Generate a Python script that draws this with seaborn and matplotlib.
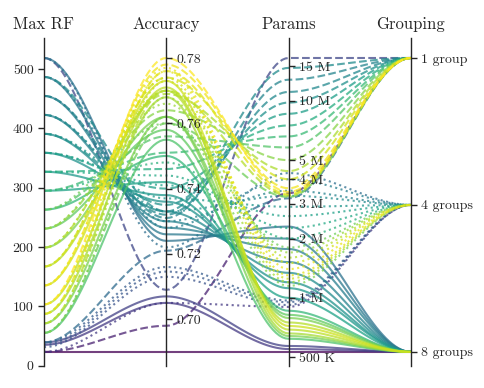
import numpy as np
import pandas as pd
import matplotlib
matplotlib.use("Agg")
import matplotlib.pyplot as plt
import matplotlib.transforms as mtransforms
from matplotlib.ticker import FixedLocator, FixedFormatter, NullLocator
import seaborn as sns

sns.set_style("ticks")
plt.rcParams["font.family"] = ["cmr10", "DejaVu Serif"]
plt.rcParams["mathtext.fontset"] = "cm"
plt.rcParams["axes.formatter.use_mathtext"] = True
plt.rcParams["axes.unicode_minus"] = False
plt.rcParams["font.size"] = 10

# ---------------- data ----------------
columns = ["Max RF", "Accuracy", "Params", "Grouping"]
group_names = ["8 groups", "4 groups", "1 group"]  # bottom -> top

# 1 group (dashed)
rf_1 = [23, 39, 55, 71, 87, 103, 135, 167, 199, 231, 263, 295, 327, 359, 391, 423, 455, 487, 519]
acc_1 = [0.698, 0.721, 0.760, 0.770, 0.776, 0.780, 0.778, 0.774, 0.769, 0.764, 0.756, 0.751,
         0.746, 0.740, 0.735, 0.732, 0.731, 0.733, 0.709]
params_1 = [3.4, 3.2, 3.25, 3.3, 3.35, 3.45, 3.6, 4.0, 4.4, 5.0, 5.8, 6.6, 7.5, 8.6, 9.8,
            11.1, 12.8, 14.7, 16.5]

# 4 groups (dotted)
rf_4 = [23, 31, 35, 39, 55, 71, 87, 103, 135, 167, 199, 231, 263, 295, 327, 359, 391, 423, 455, 487, 519]
acc_4 = [0.705, 0.713, 0.7146, 0.716, 0.762, 0.768, 0.773, 0.776, 0.777, 0.774, 0.770, 0.766,
         0.760, 0.748, 0.744, 0.741, 0.737, 0.733, 0.730, 0.728, 0.722]
params_4 = [0.90, 0.92, 0.95, 0.97, 1.15, 1.2, 1.25, 1.3, 1.4, 1.5, 1.6, 1.7, 1.8, 2.0, 2.26,
            2.6, 2.9, 3.3, 3.5, 4.0, 4.3]

# 8 groups (solid)
rf_8 = [23, 35, 39, 55, 71, 87, 103, 135, 167, 199, 231, 263, 295, 327, 359, 391, 423, 455, 487, 519]
acc_8 = [0.690, 0.705, 0.707, 0.755, 0.762, 0.768, 0.771, 0.773, 0.770, 0.762, 0.758, 0.750,
         0.742, 0.738, 0.736, 0.733, 0.730, 0.728, 0.726, 0.724]
params_8 = [0.532, 0.55, 0.57, 0.62, 0.64, 0.66, 0.69, 0.72, 0.75, 0.79, 0.82, 0.86, 1.0, 1.12,
            1.2, 1.34, 1.52, 1.77, 2.0, 2.3]

rf_ticks = [0, 100, 200, 300, 400, 500]
acc_ticks = [0.70, 0.72, 0.74, 0.76, 0.78]
params_ticks = [0.5, 1, 2, 3, 4, 5, 10, 15]
params_tick_labels = ["500 K", "1 M", "2 M", "3 M", "4 M", "5 M", "10 M", "15 M"]

rows = []
for gname, rfs, accs, pars in [("1 group", rf_1, acc_1, params_1),
                               ("4 groups", rf_4, acc_4, params_4),
                               ("8 groups", rf_8, acc_8, params_8)]:
    for r, a, p in zip(rfs, accs, pars):
        rows.append({"rf": r, "acc": a, "params": p, "grouping": gname})
df = pd.DataFrame(rows)

rf_min, rf_max = df.rf.min(), df.rf.max()
acc_min, acc_max = df.acc.min(), df.acc.max()
lp_min, lp_max = np.log(df.params.min()), np.log(df.params.max())
gidx = df.grouping.map({g: i for i, g in enumerate(group_names)})

norm = np.column_stack([
    (df.rf - rf_min) / (rf_max - rf_min),
    (df.acc - acc_min) / (acc_max - acc_min),
    (np.log(df.params) - lp_min) / (lp_max - lp_min),
    gidx / 2.0,
])

lo, hi = -0.048, 1.068

# smooth curves with horizontal tangents at each axis (cubic Bezier)
t = np.linspace(0, 1, 40)
s = 3 * t ** 2 - 2 * t ** 3
curve_rows = []
for i in range(len(df)):
    xs, ys = [], []
    for k in range(3):
        tt = t if k == 0 else t[1:]
        ss = s if k == 0 else s[1:]
        xs.append(k + tt)
        ys.append(norm[i, k] + (norm[i, k + 1] - norm[i, k]) * ss)
    xs = np.concatenate(xs)
    ys = np.concatenate(ys)
    curve_rows.append(pd.DataFrame({"x": xs, "y": ys, "acc": df.acc[i],
                                    "grouping": df.grouping[i], "id": i}))
curves = pd.concat(curve_rows, ignore_index=True)

# ---------------- figure ----------------
fig = plt.figure(figsize=(4.85, 3.88), dpi=100)
rect = [44 / 485, 22 / 388, 367 / 485, 328 / 388]
base = fig.add_axes(rect)
base.set_xlim(0, 3)
base.set_ylim(lo, hi)

sns.lineplot(data=curves, x="x", y="y", hue="acc", units="id", estimator=None,
             style="grouping", style_order=["1 group", "4 groups", "8 groups"],
             dashes={"1 group": (3.7, 1.6), "4 groups": (1, 1.65), "8 groups": ""},
             palette="viridis", hue_norm=(acc_min, acc_max), legend=False,
             linewidth=1.5, alpha=0.75, sort=False, ax=base)
base.set_axis_off()

def lin_lim(m, M):
    return (m + lo * (M - m), m + hi * (M - m))

for i, col in enumerate(columns):
    ax = base.twinx()
    ax.set_xlim(0, 3)
    for sp in ["top", "bottom", "left", "right"]:
        ax.spines[sp].set_visible(False)
    if i == 0:
        ax.spines["left"].set_visible(True)
        ax.spines["left"].set_position(("axes", 0))
        ax.spines["left"].set_linewidth(1.0)
        ax.yaxis.tick_left()
    else:
        ax.spines["right"].set_visible(True)
        ax.spines["right"].set_position(("axes", i / 3))
        ax.spines["right"].set_linewidth(1.0)
        ax.yaxis.tick_right()
    ax.tick_params(axis="y", labelsize=10, width=1.0, length=4)
    if col == "Max RF":
        ax.set_ylim(*lin_lim(rf_min, rf_max))
        ax.yaxis.set_major_locator(FixedLocator(rf_ticks))
        ax.yaxis.set_major_formatter(FixedFormatter([str(v) for v in rf_ticks]))
    elif col == "Accuracy":
        ax.set_ylim(*lin_lim(acc_min, acc_max))
        ax.yaxis.set_major_locator(FixedLocator(acc_ticks))
        ax.yaxis.set_major_formatter(FixedFormatter([f"{v:.2f}" for v in acc_ticks]))
    elif col == "Params":
        ax.set_yscale("log")
        ax.set_ylim(np.exp(lp_min + lo * (lp_max - lp_min)),
                    np.exp(lp_min + hi * (lp_max - lp_min)))
        ax.yaxis.set_major_locator(FixedLocator(params_ticks))
        ax.yaxis.set_major_formatter(FixedFormatter(params_tick_labels))
        ax.yaxis.set_minor_locator(NullLocator())
    else:
        ax.set_ylim(lo * 2, hi * 2)
        ax.yaxis.set_major_locator(FixedLocator([0, 1, 2]))
        ax.yaxis.set_major_formatter(FixedFormatter(group_names))
    ax.set_xticks([])

trans = mtransforms.blended_transform_factory(base.transData, base.transAxes)
for i, col in enumerate(columns):
    base.text(i, 1.026, col, transform=trans, ha="center", va="baseline", fontsize=12)

fig.savefig("out.png", dpi=100)
